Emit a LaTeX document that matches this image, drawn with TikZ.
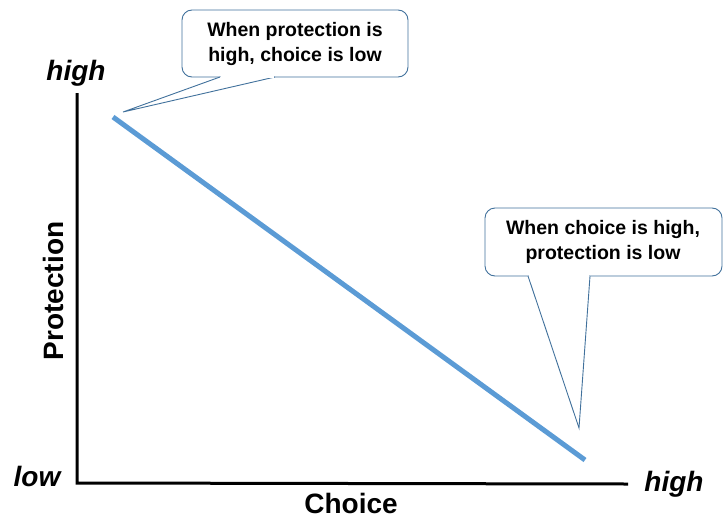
\documentclass[tikz,border=0pt]{standalone}
\usepackage{fontspec}
\setmainfont{Liberation Sans}
\usetikzlibrary{calc}

\definecolor{lineblue}{RGB}{91,155,213}
\definecolor{boxblue}{RGB}{65,113,156}
\tikzset{
    callout/.style = {draw = boxblue, line width = 0.9pt, fill = white},
    axislabel/.style = {font = \fontsize{28}{32}\selectfont\bfseries},
    endlabel/.style = {font = \fontsize{28}{32}\selectfont\bfseries\itshape},
    note/.style = {font = \fontsize{19.5}{25}\selectfont\bfseries, align = center}
}

\begin{document}
\begin{tikzpicture}[x = 1pt, y = -1pt]
    \useasboundingbox (0,0) rectangle (727,519);
    \coordinate (O) at (77,483);
    \coordinate (Ytop) at (77,93);
    \coordinate (Xend) at (628,484);
    \draw[line width = 3pt, line join = miter] (Ytop)--(O)--(Xend);
    \node[endlabel] (ytop) at (76,73) {high};
    \node[endlabel] (ylow) at (37,476) {low};
    \node[endlabel] (xhigh) at (674,484) {high};
    \node[axislabel, rotate = 90] (ylab) at (53,291) {Protection};
    \node[axislabel, anchor = base, inner sep = 0pt] (xlab) at (351,513) {Choice};
    \coordinate (P) at (113,117);
    \coordinate (Q) at (585,460);
    \draw[lineblue, line width = 5pt] (P)--(Q);
    \coordinate (T1) at (123,112);
    \coordinate (A1) at (220,77);
    \coordinate (B1) at (275,77);
    \draw[callout, rounded corners = 10pt] (182,10) rectangle (408,77);
    \filldraw[callout] (A1)--(T1)--(B1);
    \draw[white, line width = 1.5pt, shorten < = 0.7pt, shorten > = 0.7pt] (A1)--(B1);
    \node[note] (n1) at (295,44) {When protection is\\high, choice is low};
    \coordinate (T2) at (579,428);
    \coordinate (A2) at (528,276);
    \coordinate (B2) at (590,276);
    \draw[callout, rounded corners = 10pt] (485,208) rectangle (722,276);
    \filldraw[callout] (A2)--(T2)--(B2);
    \draw[white, line width = 1.5pt, shorten < = 0.7pt, shorten > = 0.7pt] (A2)--(B2);
    \node[note] (n2) at (603,242) {When choice is high,\\protection is low};
\end{tikzpicture}
\end{document}
